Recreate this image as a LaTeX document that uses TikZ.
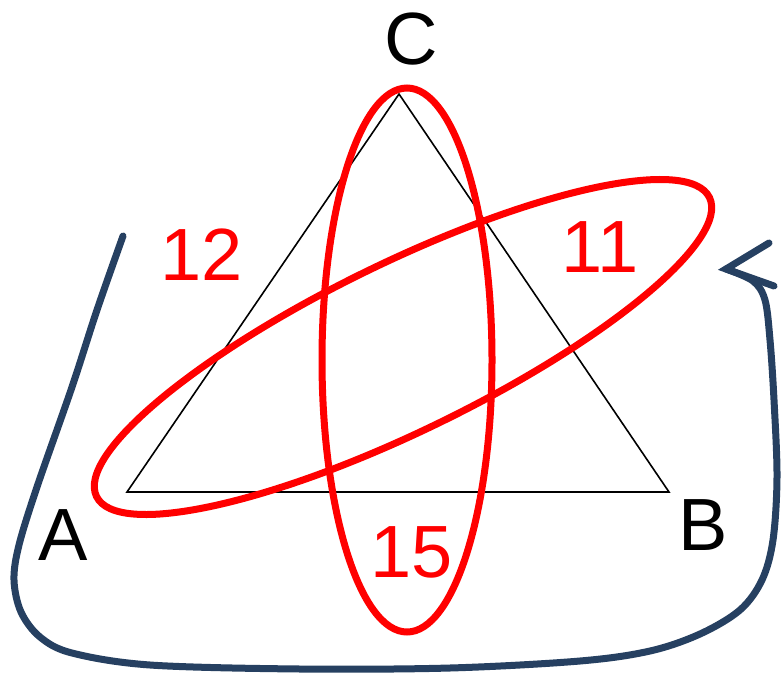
\documentclass[tikz,border=0pt]{standalone}
\usepackage{fontspec}
\setmainfont{Liberation Sans}
\definecolor{navy}{RGB}{38,64,97}
\definecolor{rred}{RGB}{255,0,0}
\begin{document}
\begin{tikzpicture}[x=1pt,y=-1pt,
  lbl/.style={anchor=base,inner sep=0pt,font=\fontsize{74}{80}\selectfont},
  redlbl/.style={lbl,text=rred},
  tri/.style={draw=black,line width=1.6pt,line join=miter},
  ring/.style={draw=rred,line width=7pt},
  loopline/.style={draw=navy,line width=7pt,line cap=round},
  barb/.style={draw=navy,line width=7pt,line cap=round,line join=miter}]
\useasboundingbox (0,0) rectangle (784,677);
% triangle
\coordinate (A) at (127,492);
\coordinate (B) at (669,492);
\coordinate (C) at (399,94);
\draw[tri] (A) -- (B) -- (C) -- cycle;
% ellipses
\coordinate (vc) at (407,360);
\coordinate (tc) at (403,347);
\draw[ring] (vc) ellipse [x radius=85, y radius=272];
\draw[ring, rotate around={26:(tc)}] (tc) ellipse [x radius=341, y radius=84];
% labels
\node[lbl] (lA) at (63,560) {A};
\node[lbl] (lB) at (703,550) {B};
\node[lbl] (lC) at (411,65) {C};
\node[redlbl] (n12) at (202,280) {12};
\node[redlbl] (n11) at (600,272) {11};
\node[redlbl] (n15) at (412,577) {15};
% loop arrow
\coordinate (s) at (123,236);
\coordinate (tip) at (726,269);
\coordinate (arm1) at (769,243);
\coordinate (arm2) at (774,286);
\draw[loopline] plot[smooth, tension=0.55] coordinates {(123,236) (97,310) (72,387) (37,487) (19,545) (14,580) (21,612) (40,637) (72,653) (150,665) (300,669) (450,668) (580,661) (650,651) (700,634) (740,610) (762,580) (773,540) (777,477) (774,400) (770,340) (765,300) (753,281) (726,269)};
\draw[barb] (arm1) -- (tip) -- (arm2);
\end{tikzpicture}
\end{document}
